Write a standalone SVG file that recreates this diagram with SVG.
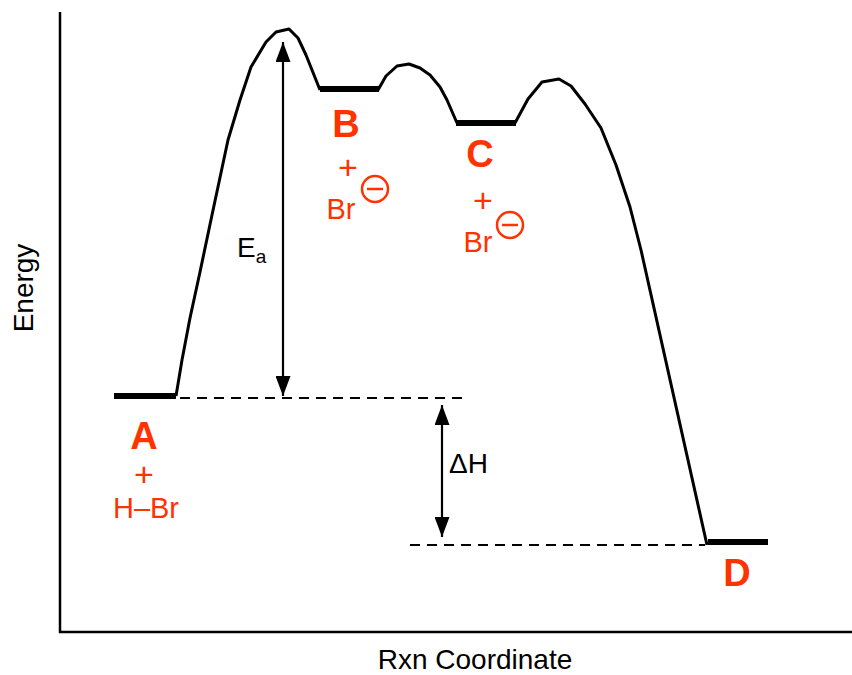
<svg xmlns="http://www.w3.org/2000/svg" width="852" height="675" viewBox="0 0 852 675">
<defs>
<style>
.ax{fill:none;stroke:#000;stroke-width:2.5}
.curve{fill:none;stroke:#000;stroke-width:3;stroke-linejoin:round}
.lvl{stroke:#000;stroke-width:6}
.dash{stroke:#000;stroke-width:1.8;stroke-dasharray:10 7}
.arr{stroke:#000;stroke-width:2.2}
.lab{font-family:"Liberation Sans",Arial,sans-serif;fill:#000;font-size:28px}
.big{font-family:"Liberation Sans",Arial,sans-serif;fill:#ff3300;font-size:38px;font-weight:bold;text-anchor:middle}
.red{font-family:"Liberation Sans",Arial,sans-serif;fill:#ff3300;font-size:29px;text-anchor:middle}
.plus{font-family:"Liberation Sans",Arial,sans-serif;fill:#ff3300;font-size:34px;text-anchor:middle}
.neg{fill:none;stroke:#ff3300;stroke-width:2.5}
</style>
<marker id="ah2" viewBox="0 0 20 15" refX="20" refY="7.5" markerWidth="20" markerHeight="15" markerUnits="userSpaceOnUse" orient="auto-start-reverse">
<path d="M0,0 L20,7.5 L0,15 z" fill="#000"/>
</marker>
</defs>
<g id="axes">
<polyline class="ax" points="60,12 60,632 852,632"/>
<text class="lab" x="475" y="669" text-anchor="middle" font-size="30">Rxn Coordinate</text>
<text class="lab" transform="translate(33,288) rotate(-90)" text-anchor="middle" font-size="29">Energy</text>
</g>
<g id="connectors">
<polyline class="curve" points="176,396 182,360 190,318 200,272 212,215 228,140 240,100 251,67 266,42 276,32 289,29 298,38 306,55 320,90"/>
<polyline class="curve" points="378,90 386,76 397,66 409,64 420,68 430,75 440,87 447,100 457,123"/>
<polyline class="curve" points="515,123 528,99 542,82 559,79 571,86 585,104 601,128 616,165 630,207 641,250 707,545"/>
<line class="dash" x1="180" y1="398" x2="465" y2="398"/>
<line class="dash" x1="410" y1="545" x2="705" y2="545"/>
<line class="arr" x1="283" y1="42" x2="283" y2="396" marker-start="url(#ah2)" marker-end="url(#ah2)"/>
<line class="arr" x1="442" y1="405" x2="442" y2="537" marker-start="url(#ah2)" marker-end="url(#ah2)"/>
</g>
<g id="A">
<line class="lvl" x1="114" y1="396" x2="176" y2="396"/>
<text class="big" x="144" y="449">A</text>
<text class="plus" x="144" y="486" font-size="32">+</text>
<text class="red" x="146" y="518">H–Br</text>
</g>
<g id="B">
<line class="lvl" x1="320" y1="89" x2="379" y2="89"/>
<text class="big" x="346" y="137">B</text>
<text class="plus" x="348" y="179">+</text>
<text class="red" x="341" y="219">Br</text>
<circle class="neg" cx="375" cy="189" r="13"/>
<line class="neg" x1="367" y1="189" x2="383" y2="189"/>
</g>
<g id="C">
<line class="lvl" x1="456" y1="123" x2="516" y2="123"/>
<text class="big" x="480" y="167">C</text>
<text class="plus" x="483" y="212">+</text>
<text class="red" x="478" y="252">Br</text>
<circle class="neg" cx="510" cy="225" r="13"/>
<line class="neg" x1="502" y1="225" x2="518" y2="225"/>
</g>
<g id="D">
<line class="lvl" x1="708" y1="542" x2="768" y2="542"/>
<text class="big" x="737" y="586">D</text>
</g>
<g id="Ea">
<text class="lab" x="237" y="257">E<tspan font-size="19" dy="6">a</tspan></text>
</g>
<g id="dH">
<text class="lab" x="449" y="473">ΔH</text>
</g>
</svg>
